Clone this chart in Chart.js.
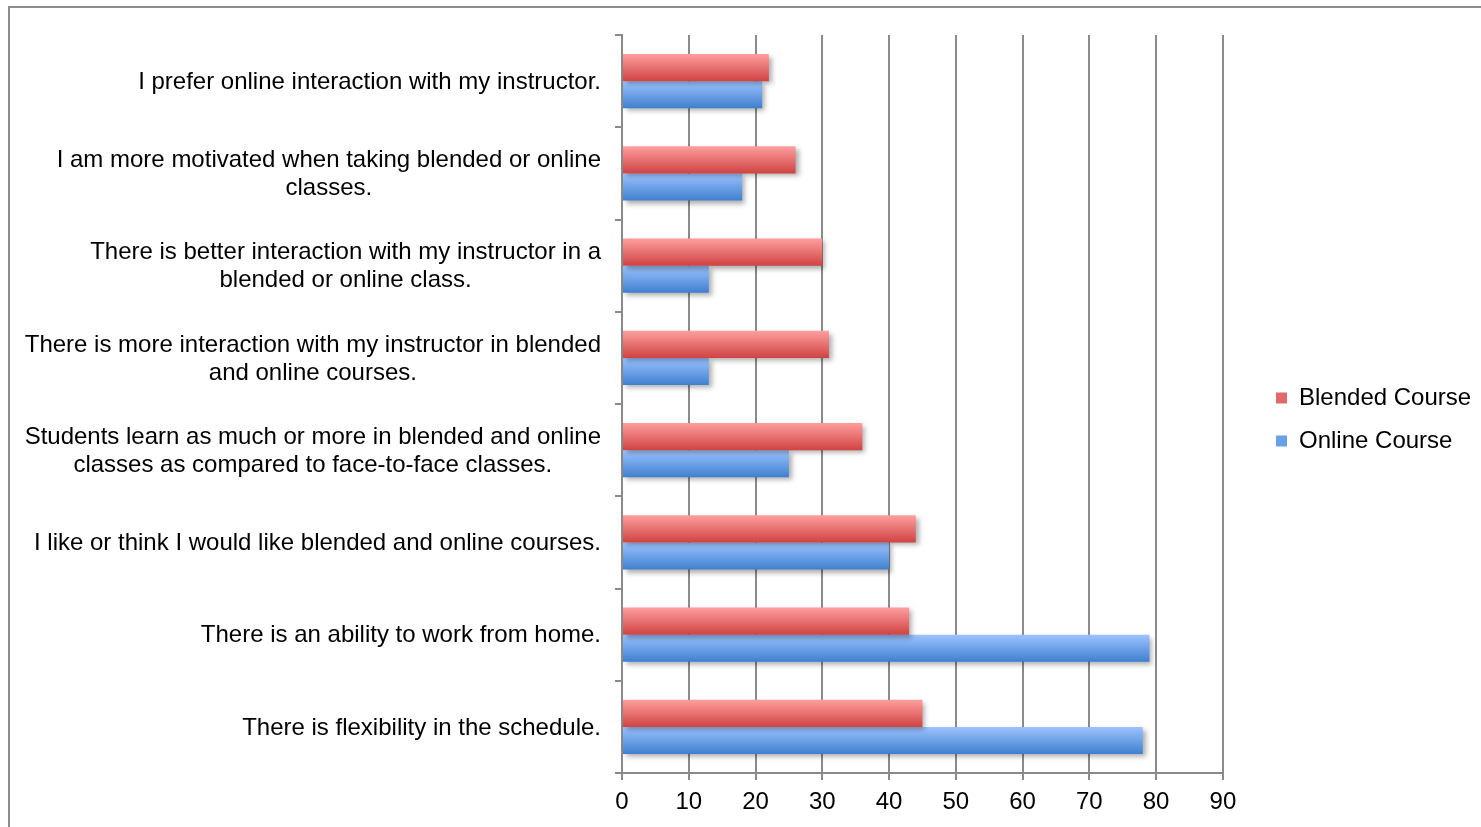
<!DOCTYPE html>
<html>
<head>
<meta charset="utf-8">
<title>Blended vs Online Course</title>
<script src="https://cdn.jsdelivr.net/npm/chart.js@4.4.1/dist/chart.umd.min.js"></script>
<style>
  html, body { margin: 0; padding: 0; background: #fff; overflow: hidden; }
  #frame {
    position: absolute; left: 8px; top: 6px;
    width: 1500px; height: 850px;
    border-top: 2px solid #8c8c8c; border-left: 2px solid #8c8c8c;
  }
  #chart { position: absolute; left: 0; top: 0; }
</style>
</head>
<body>
<div id="frame"></div>
<canvas id="chart" width="1481" height="827"></canvas>
<script>
// survey statements, top to bottom (each entry = the lines of the label)
const statements = [
  ["I prefer online interaction with my instructor."],
  ["I am more motivated when taking blended or online", "classes."],
  ["There is better interaction with my instructor in a", "blended or online class."],
  ["There is more interaction with my instructor in blended", "and online courses."],
  ["Students learn as much or more in blended and online", "classes as compared to face-to-face classes."],
  ["I like or think I would like blended and online courses."],
  ["There is an ability to work from home."],
  ["There is flexibility in the schedule."]
];

const blendedCourse = [22, 26, 30, 31, 36, 44, 43, 45];
const onlineCourse  = [21, 18, 13, 13, 25, 40, 79, 78];

const seriesNames = ["Blended Course", "Online Course"];
const xMin = 0;
const xMax = 90;
const xStep = 10;

const FONT = '"Liberation Sans", Arial, sans-serif';
const GRID = "#8a8a8a";

// top/bottom colours of the glossy bars
const shades = [
  ["#ff9f9f", "#d04343"],
  ["#9cc4ff", "#3f7fcf"]
];

// gradient fill + soft drop shadow on every bar
const barShading = {
  id: "barShading",
  beforeDatasetsDraw(chart) {
    const ctx = chart.ctx;
    chart.data.datasets.forEach((ds, i) => {
      const [top, bottom] = shades[i];
      chart.getDatasetMeta(i).data.forEach(bar => {
        const { y, height } = bar.getProps(["y", "height"], true);
        const g = ctx.createLinearGradient(0, y - height / 2, 0, y + height / 2);
        g.addColorStop(0, top);
        g.addColorStop(1, bottom);
        bar.options = Object.assign({}, bar.options, { backgroundColor: g });
      });
    });
    ctx.save();
    ctx.shadowColor = "rgba(0,0,0,0.32)";
    ctx.shadowBlur = 5;
    ctx.shadowOffsetX = 3;
    ctx.shadowOffsetY = 3;
  },
  afterDatasetsDraw(chart) {
    chart.ctx.restore();
  }
};

// category labels: block right aligned to the axis, lines centred on each other
const statementLabels = {
  id: "statementLabels",
  afterDraw(chart) {
    const ctx = chart.ctx;
    const yScale = chart.scales.y;
    const right = yScale.right - 21;
    const lineH = 28;
    ctx.save();
    ctx.font = "24px " + FONT;
    ctx.fillStyle = "#000";
    ctx.textAlign = "center";
    ctx.textBaseline = "middle";
    statements.forEach((lines, i) => {
      const yc = yScale.getPixelForValue(i) + 1;
      const w = Math.max(...lines.map(l => ctx.measureText(l).width));
      const cx = right - w / 2;
      lines.forEach((l, j) => {
        ctx.fillText(l, cx, yc + (j - (lines.length - 1) / 2) * lineH);
      });
    });
    ctx.restore();
  }
};

// park the legend box a little off the plot, vertically centred on the page
const legendAt = { x: 1276, y: 386 };
const legendNudge = {
  id: "legendNudge",
  afterLayout(chart) {
    const lg = chart.legend;
    const pad = lg.options.labels.padding;
    const colH = lg.columnSizes[0].height;
    const dx = legendAt.x - pad - lg.left;
    const dy = legendAt.y - (lg.top + pad + lg.bottom - colH) / 2;
    lg.left += dx; lg.right += dx;
    lg.top += dy; lg.bottom += dy;
  }
};

new Chart(document.getElementById("chart"), {
  type: "bar",
  data: {
    labels: statements.map(s => s.join(" ")),
    datasets: [
      { label: seriesNames[0], data: blendedCourse, backgroundColor: "#e06a6a" },
      { label: seriesNames[1], data: onlineCourse, backgroundColor: "#6b9fe6" }
    ]
  },
  options: {
    indexAxis: "y",
    responsive: false,
    animation: false,
    devicePixelRatio: 1,
    categoryPercentage: 0.59,
    barPercentage: 1,
    layout: { padding: { top: 35, right: 34, bottom: 0, left: 0 } },
    plugins: {
      tooltip: { enabled: false },
      legend: {
        position: "right",
        labels: {
          boxWidth: 11,
          boxHeight: 11,
          padding: 19,
          color: "#000",
          font: { family: FONT, size: 24 }
        }
      }
    },
    scales: {
      x: {
        min: xMin,
        max: xMax,
        ticks: { stepSize: xStep, color: "#000", padding: 8, font: { family: FONT, size: 24 } },
        grid: { color: GRID, lineWidth: 2, tickLength: 7, tickColor: GRID },
        border: { color: GRID, width: 2 },
        afterFit(scale) { scale.height = 54; }
      },
      y: {
        ticks: { display: false },
        grid: { drawOnChartArea: false, offset: true, color: GRID, lineWidth: 2, tickLength: 7 },
        border: { color: GRID, width: 2 },
        afterFit(scale) { scale.width = 622; }
      }
    }
  },
  plugins: [barShading, statementLabels, legendNudge]
});
</script>
</body>
</html>
